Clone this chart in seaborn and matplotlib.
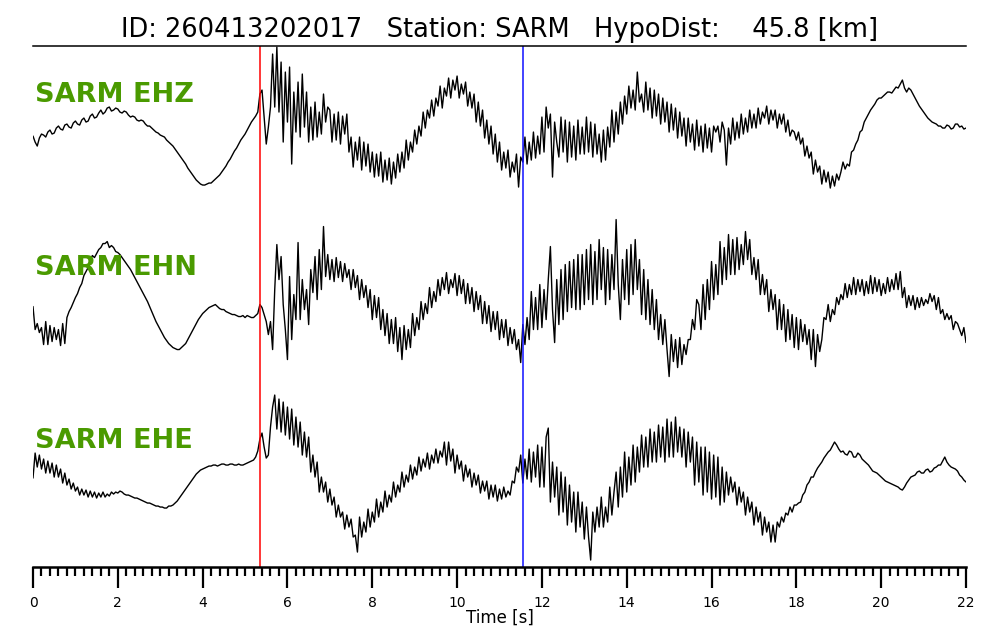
import numpy as np
import pandas as pd
import matplotlib
matplotlib.use("Agg")
import matplotlib.pyplot as plt
from matplotlib.ticker import MultipleLocator
import seaborn as sns

########## event / station info ##########
event_id = "260413202017"
station = "SARM"
hypo_dist = 45.8          # km
channels = ["EHZ", "EHN", "EHE"]
delta = 0.05
p_pick = 5.35             # s, red pick
s_pick = 11.56            # s, blue pick

########## traces (counts, one row = 1 s) ##########
ehz = [-14, -20, -24, -16, -12, -13, -15, -10, -8, -12, -11, -6, -4, -7, -8, -3, -2, -5, -6, -1,
       1, -2, -3, 2, 4, 0, 1, 6, 8, 4, 5, 9, 12, 8, 10, 14, 15, 11, 12, 14,
       13, 10, 9, 11, 10, 7, 5, 6, 5, 2, 1, 2, 1, -2, -4, -4, -6, -8, -10, -11,
       -13, -14, -15, -18, -20, -22, -24, -27, -30, -33, -36, -39, -42, -46, -49, -52, -55, -58, -60, -62,
       -63, -63, -62, -61, -61, -59, -57, -55, -53, -50, -47, -44, -40, -37, -33, -29, -26, -22, -18, -15,
       -12, -8, -4, 0, 3, 6, 10, 28, 32, 5, -22, -5, 15, 68, 15, 75, 10, 60, -20, 50,
       0, 55, -42, 30, -10, 40, -15, 48, -5, 30, -20, 15, -18, 20, -15, 10, -12, 28, 0, 15,
       12, -20, 8, -18, 10, -22, 6, -12, 8, -30, -15, -45, -20, -38, -15, -48, -20, -44, -22, -50,
       -30, -55, -32, -54, -30, -60, -38, -58, -36, -62, -40, -56, -32, -50, -30, -46, -18, -38, -20, -30,
       -8, -22, -4, -14, 10, -6, 12, 4, 22, 6, 24, 16, 36, 14, 34, 26, 44, 24, 42, 32,
       46, 24, 38, 28, 40, 16, 30, 14, 28, 0, 20, -4, 12, -16, 2, -22, -4, -32, -12, -40,
       -20, -48, -30, -46, -28, -55, -40, -50, -32, -65, -35, -40, -15, -42, -20, -38, -10, -36, -14, -32,
       5, -30, 15, -6, 8, -55, 0, -20, -35, 5, -30, 2, -40, 0, -35, -4, -38, 2, -32, -5,
       -32, 5, -30, 0, -35, -2, -32, -12, -40, -8, -38, -5, -25, 12, -20, 10, -12, 20, -2, 26,
       8, 36, 14, 32, 12, 50, 20, 28, 10, 40, 12, 34, 4, 32, 6, 28, -2, 24, 0, 20,
       -10, 18, -8, 14, -16, 10, -14, 4, -24, 4, -20, -2, -28, 2, -24, -4, -30, -2, -26, -6,
       -30, -4, -10, -4, -20, 0, -8, -43, -6, -22, 4, -18, 0, -16, 8, -12, 4, -10, 12, -6,
       8, -6, 14, -2, 10, 4, 16, -2, 12, 2, 12, -6, 8, -2, 8, -10, 2, -14, -8, -10,
       -18, -10, -22, -16, -34, -24, -36, -30, -52, -38, -50, -44, -62, -48, -60, -50, -66, -54, -64, -52,
       -58, -50, -40, -47, -42, -44, -30, -28, -22, -18, -10, -8, 0, 4, 8, 12, 15, 18, 22, 24,
       24, 26, 28, 30, 30, 29, 32, 35, 34, 38, 42, 34, 30, 34, 32, 28, 24, 20, 16, 13,
       10, 7, 4, 2, 0, -1, -2, -4, -4, -6, -6, -3, -4, -7, -6, -2, -2, -5, -4, -7, -6]

ehn = [-7, -30, -24, -33, -28, -45, -22, -45, -26, -42, -28, -40, -30, -46, -24, -44, -18, -12, -8, -3,
       2, 6, 12, 16, 24, 28, 32, 40, 44, 42, 46, 50, 52, 56, 56, 58, 52, 54, 52, 48,
       47, 45, 42, 39, 36, 33, 30, 26, 22, 18, 14, 10, 6, 2, -2, -7, -12, -17, -22, -26,
       -30, -34, -38, -41, -44, -46, -48, -49, -50, -50, -48, -46, -44, -40, -36, -32, -28, -24, -20, -17,
       -14, -12, -10, -8, -7, -6, -5, -7, -9, -10, -10, -12, -13, -14, -15, -15, -16, -17, -17, -16,
       -18, -16, -17, -18, -18, -16, -14, -5, -8, -15, -22, -35, -22, -50, 10, 55, 20, 43, -5, -30,
       -60, 23, -40, 5, -20, 57, -20, 20, -10, 10, -25, 30, 7, 43, 0, 50, 10, 73, 23, 45,
       20, 40, 18, 42, 22, 38, 18, 36, 22, 30, 10, 30, 12, 24, 0, 20, 2, 14, -8, 10,
       -20, 4, -18, 2, -30, -10, -36, -14, -44, -20, -44, -18, -52, -28, -60, -26, -50, -30, -48, -14,
       -36, -18, -30, -2, -20, -4, -14, 12, -8, 8, -2, 20, 4, 22, 10, 27, 6, 20, 12, 26,
       4, 24, 6, 20, -4, 16, -4, 12, -12, 8, -10, 4, -24, -2, -24, -6, -32, -12, -30, -12,
       -40, -20, -38, -20, -46, -28, -44, -30, -50, -40, -63, -25, -45, -18, -40, 8, -30, 2, -30, 15,
       -28, 10, -20, 20, 53, -10, -43, 20, -25, 30, -20, 35, -12, 38, -8, 40, -10, 45, -10, 45,
       -5, 50, 0, 55, -5, 48, 0, 60, 10, 52, -5, 50, 0, 45, 10, 80, 15, -20, 40, 0,
       50, -5, 55, 5, 60, 10, 40, -15, 30, -20, 20, -25, 10, -30, 0, -40, -15, -45, -20, -50,
       -77, -35, -62, -40, -68, -38, -65, -45, -55, -40, -40, -20, -30, 0, -5, -30, 15, -20, 20, -10,
       38, 0, 35, 5, 58, 15, 52, 20, 65, 25, 60, 25, 62, 30, 55, 35, 68, 40, 60, 25,
       42, 20, 40, 5, 25, 5, 20, -12, 10, -10, 5, -30, 0, -30, -5, -42, -10, -40, -15, -48,
       -18, -50, -20, -42, -25, -45, -30, -60, -30, -67, -35, -52, -40, -18, -20, -5, -22, -10, -15, 2,
       -5, 5, 0, 16, 2, 15, 5, 22, 5, 20, 8, 20, 4, 18, 6, 24, 6, 22, 8, 20,
       4, 16, 6, 22, 8, 20, 10, 26, 10, 28, 2, 12, -8, 4, -6, 4, -10, 2, -8, 2,
       -6, 0, -4, 6, -2, 4, -10, 2, -14, -10, -20, -14, -20, -16, -30, -22, -24, -30, -36, -28, -43]

ehe = [-1, 24, 10, 22, 8, 18, 4, 16, 4, 14, 0, 12, 0, 8, -6, 4, -8, -2, -12, -6,
       -14, -10, -18, -12, -18, -13, -20, -14, -20, -15, -21, -16, -20, -15, -20, -17, -19, -15, -17, -15,
       -16, -14, -15, -17, -18, -18, -19, -20, -21, -21, -22, -23, -24, -25, -26, -26, -27, -28, -29, -29,
       -30, -30, -31, -31, -29, -29, -28, -26, -24, -21, -18, -15, -12, -9, -6, -3, 0, 3, 5, 7,
       8, 9, 10, 11, 11, 12, 12, 11, 12, 13, 13, 12, 12, 13, 13, 12, 12, 13, 12, 12,
       13, 14, 15, 16, 17, 20, 26, 38, 44, 30, 19, 22, 50, 70, 82, 48, 78, 45, 75, 42,
       70, 38, 68, 32, 60, 30, 55, 22, 45, 20, 40, 5, 22, 0, 15, -15, 0, -15, -5, -25,
       -12, -28, -20, -40, -28, -40, -35, -52, -38, -50, -42, -60, -58, -75, -40, -60, -45, -55, -32, -50,
       -35, -45, -22, -40, -25, -35, -14, -30, -18, -25, -5, -20, -8, -15, 5, -10, 2, -5, 12, -2,
       10, 2, 20, 6, 18, 10, 24, 8, 22, 14, 28, 14, 26, 20, 35, 12, 35, 16, 28, 4,
       22, 8, 16, -4, 12, 0, 8, -10, 4, -8, 2, -16, -4, -14, -4, -22, -8, -20, -8, -24,
       -12, -22, -10, -20, -14, -18, -4, -6, 10, 5, 22, -6, 18, -2, 28, -5, 25, 0, 32, -10,
       30, -10, 40, 49, -25, 15, -20, 10, -38, 5, -35, 0, -48, -8, -45, -15, -55, -15, -50, -25,
       -62, -30, -60, -83, -35, -55, -30, -50, -20, -50, -30, -45, -10, -38, -15, 5, -30, 10, -20, 25,
       -15, 20, -8, 32, -5, 30, 5, 42, 10, 40, 10, 48, 15, 45, 15, 52, 20, 50, 15, 58,
       20, 55, 20, 60, 25, 50, 20, 48, 10, 45, 15, 40, -8, 35, -5, 30, -18, 30, -15, 25,
       -22, 22, -20, 20, -28, 10, -25, 5, -18, 0, -15, -5, -28, -10, -25, -15, -38, -20, -35, -25,
       -48, -30, -45, -35, -58, -40, -55, -45, -65, -48, -65, -45, -50, -40, -45, -36, -38, -30, -35, -28,
       -28, -26, -25, -18, -15, -8, -5, 0, 0, 5, 9, 12, 15, 19, 22, 25, 27, 31, 35, 32,
       28, 25, 26, 23, 22, 26, 25, 20, 20, 24, 22, 18, 16, 14, 12, 9, 6, 5, 4, 2,
       0, -2, -4, -5, -6, -7, -8, -9, -10, -12, -13, -10, -6, -3, 0, 1, 2, 5, 6, 4,
       4, 7, 8, 5, 6, 9, 10, 12, 12, 16, 20, 15, 12, 10, 9, 8, 6, 2, 0, -3, -5]

traces = [ehz, ehn, ehe]

########## build long table, each trace shifted onto its own row ##########
gain = 1 / 177.5
offsets = [2, 1, 0]
frames = []
for cha, tr, off in zip(channels, traces, offsets):
    tr = np.asarray(tr, dtype=float)
    frames.append(pd.DataFrame({
        "time": np.arange(len(tr)) * delta,
        "y": off + tr * gain,
        "channel": cha,
    }))
df = pd.concat(frames, ignore_index=True)

########## plot ##########
sns.set_style("white")
plt.rcParams["font.family"] = ["DejaVu Sans"]
plt.rcParams["text.color"] = "black"
plt.rcParams["axes.labelcolor"] = "black"
plt.rcParams["xtick.color"] = "black"

fig = plt.figure(figsize=(10, 6.4), dpi=100)
ax = fig.add_axes([0.033, 0.114, 0.933, 0.814])

sns.lineplot(data=df, x="time", y="y", units="channel", estimator=None,
             sort=False, color="black", lw=1.0, ax=ax)

ax.axvline(p_pick, color="#ff0000", lw=1.1)
ax.axvline(s_pick, color="#1010ff", lw=1.1)

label_y = [2.113, 1.141, 0.163]
for cha, ly in zip(channels, label_y):
    ax.text(0.05, ly, f"{station} {cha}", color="#4a9a00", fontsize=19.5,
            fontweight="bold", va="baseline", ha="left")

ax.set_title(f"ID: {event_id}   Station: {station}   HypoDist:    {hypo_dist:.1f} [km]",
             fontsize=18.5, pad=6.5, color="black")

# axis settings
ax.set_xlim(0, 22)
ax.set_ylim(-0.507, 2.428)
ax.set_yticks([])
ax.set_ylabel("")
ax.xaxis.set_major_locator(MultipleLocator(2))
ax.xaxis.set_minor_locator(MultipleLocator(0.2))
ax.tick_params(axis="x", which="major", direction="out", length=15, width=1.6,
               labelsize=10, pad=6, bottom=True, color="black", labelcolor="black")
ax.tick_params(axis="x", which="minor", direction="out", length=6.5, width=1.6,
               bottom=True, color="black")
ax.set_xlabel("Time [s]", fontsize=12, labelpad=-1)

for side in ["left", "right"]:
    ax.spines[side].set_visible(False)
ax.spines["top"].set_linewidth(1.1)
ax.spines["top"].set_color("black")
ax.spines["bottom"].set_linewidth(1.8)
ax.spines["bottom"].set_color("black")

fig.savefig("out.png", dpi=100)
